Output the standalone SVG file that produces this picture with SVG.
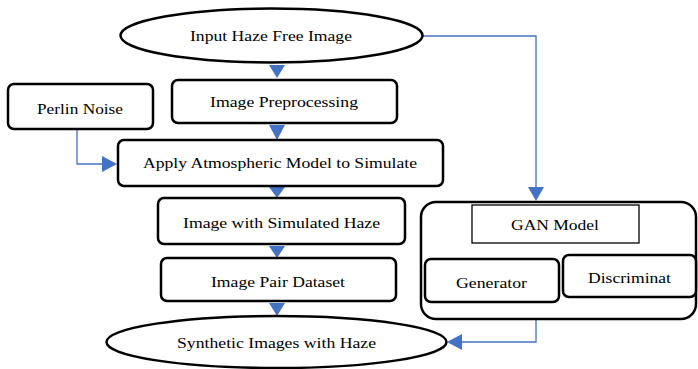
<svg xmlns="http://www.w3.org/2000/svg" width="698" height="369" viewBox="0 0 698 369">
<defs>
<style>
.n{fill:#fff;stroke:#000;stroke-width:2.5}
.thin{fill:#fff;stroke:#000;stroke-width:1.3}
.t{font-family:"Liberation Serif","DejaVu Serif",serif;font-size:15.5px;fill:#000;text-anchor:middle}
.c{fill:none;stroke:#4472C4;stroke-width:1.3}
.h{fill:#4472C4;stroke:none}
</style>
</defs>
<rect width="698" height="369" fill="#fff"/>
<g id="connectors">
<polygon class="h" points="269,65 285,65 277,78"/>
<polygon class="h" points="269,125 285,125 277,140"/>
<polygon class="h" points="269,187 285,187 277,198"/>
<polygon class="h" points="269,246 285,246 277,258"/>
<polygon class="h" points="269,303 285,303 277,316"/>
<path class="c" d="M77,129 V164 H104"/>
<polygon class="h" points="102,156 117,164 102,172"/>
<path class="c" d="M423,36 H536 V188"/>
<polygon class="h" points="528,187 544,187 536,201"/>
<path class="c" d="M536,319 V342 H460"/>
<polygon class="h" points="462,334 447,342 462,350"/>
</g>
<g id="input">
<ellipse class="n" cx="271.5" cy="35.5" rx="151" ry="27"/>
<text class="t" x="271" y="41" textLength="162" lengthAdjust="spacingAndGlyphs">Input Haze Free Image</text>
</g>
<g id="preprocessing">
<rect class="n" x="172" y="80" width="225" height="43" rx="6"/>
<text class="t" x="284" y="107" textLength="148" lengthAdjust="spacingAndGlyphs">Image Preprocessing</text>
</g>
<g id="perlin">
<rect class="n" x="8" y="84" width="145" height="45" rx="6"/>
<text class="t" x="80" y="114" textLength="86" lengthAdjust="spacingAndGlyphs">Perlin Noise</text>
</g>
<g id="atmospheric">
<rect class="n" x="118" y="140" width="325" height="46" rx="6"/>
<text class="t" x="280" y="168" textLength="274" lengthAdjust="spacingAndGlyphs">Apply Atmospheric Model to Simulate</text>
</g>
<g id="simulated">
<rect class="n" x="158" y="198" width="247" height="46" rx="6"/>
<text class="t" x="281.5" y="228" textLength="197" lengthAdjust="spacingAndGlyphs">Image with Simulated Haze</text>
</g>
<g id="pair">
<rect class="n" x="161" y="258" width="235" height="43" rx="6"/>
<text class="t" x="278" y="287" textLength="134" lengthAdjust="spacingAndGlyphs">Image Pair Dataset</text>
</g>
<g id="synthetic">
<ellipse class="n" cx="276.5" cy="342" rx="170" ry="26"/>
<text class="t" x="276.5" y="348" textLength="199" lengthAdjust="spacingAndGlyphs">Synthetic Images with Haze</text>
</g>
<g id="gan">
<rect class="n" x="421" y="202" width="275" height="117" rx="15"/>
<rect class="thin" x="472" y="205" width="167" height="38"/>
<text class="t" x="555" y="230" textLength="88" lengthAdjust="spacingAndGlyphs">GAN Model</text>
</g>
<g id="generator">
<rect class="n" x="425" y="259" width="134" height="43" rx="6"/>
<text class="t" x="491.5" y="288" textLength="71" lengthAdjust="spacingAndGlyphs">Generator</text>
</g>
<g id="discriminator">
<rect class="n" x="563" y="255" width="133" height="42" rx="6"/>
<text class="t" x="629.5" y="283" textLength="83" lengthAdjust="spacingAndGlyphs">Discriminat</text>
</g>
</svg>
